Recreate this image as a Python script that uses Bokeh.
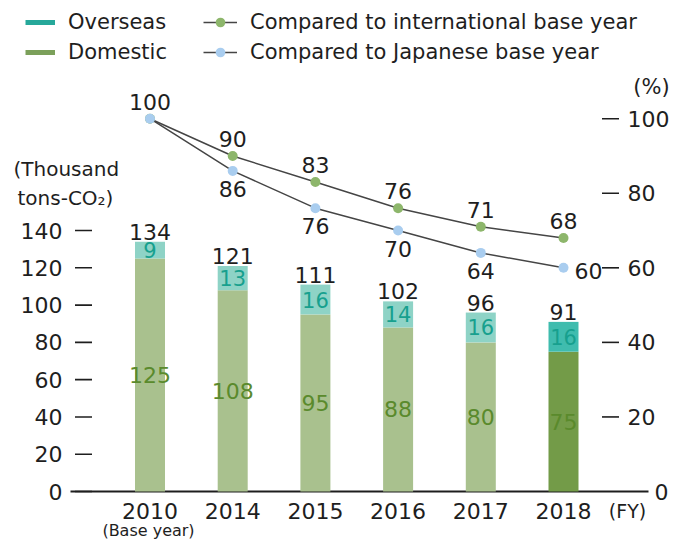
from bokeh.plotting import figure
from bokeh.models import ColumnDataSource, Range1d, Legend, LegendItem, Label
from bokeh.core.properties import value
from bokeh.embed import file_html
from bokeh.resources import INLINE

# ---------------- data ----------------
years = ["2010", "2014", "2015", "2016", "2017", "2018"]
domestic = [125, 108, 95, 88, 80, 75]
overseas = [9, 13, 16, 14, 16, 16]
totals = [134, 121, 111, 102, 96, 91]
intl_pct = [100, 90, 83, 76, 71, 68]
jp_pct = [100, 86, 76, 70, 64, 60]
left_ticks = [0, 20, 40, 60, 80, 100, 120, 140]
right_ticks = [20, 40, 60, 80, 100]

# ---------------- style ----------------
FONT = "DejaVu Sans"
INK = "#1e1e1e"
LINE = "#454545"
DOM_LIGHT, DOM_DARK = "#a9c18e", "#739b48"
OVS_LIGHT, OVS_DARK = "#8ed3c6", "#3fbcae"
DOM_TXT, OVS_TXT = "#5a8a2c", "#17a08e"
LEG_OVS, LEG_DOM = "#26a89a", "#7ba05a"
PT_INTL, PT_JP = "#8db66b", "#a9cdef"

W, H = 676, 542
BAR0_PX, STEP_PX = 149.5, 82.7      # page x of first category, px per category
BASE_PX, PX_PER_UNIT = 491, 1.864   # page y of zero line, px per thousand t

X0, X1 = -BAR0_PX / STEP_PX, (W - BAR0_PX) / STEP_PX
Y0, Y1 = -(H - BASE_PX) / PX_PER_UNIT, BASE_PX / PX_PER_UNIT


def dx(px):  # page x pixel -> data x (for axis furniture placement)
    return (px - BAR0_PX) / STEP_PX


def dy(py):  # page y pixel -> left-axis data y
    return (BASE_PX - py) / PX_PER_UNIT


n = len(years)
xs = list(range(n))
dom_col = [DOM_LIGHT] * (n - 1) + [DOM_DARK]
ovs_col = [OVS_LIGHT] * (n - 1) + [OVS_DARK]

src = ColumnDataSource(dict(
    x=xs, domestic=domestic, total=totals,
    dom_mid=[d / 2 for d in domestic],
    ovs_mid=[d + o / 2 for d, o in zip(domestic, overseas)],
    dom_txt=[str(v) for v in domestic],
    ovs_txt=[str(v) for v in overseas],
    tot_txt=[str(v) for v in totals],
    dom_col=dom_col, ovs_col=ovs_col,
))
lsrc = ColumnDataSource(dict(x=xs, intl=intl_pct, jp=jp_pct,
                             intl_txt=[str(v) for v in intl_pct]))
jp_mid = ColumnDataSource(dict(x=xs[1:-1], jp=jp_pct[1:-1],
                               jp_txt=[str(v) for v in jp_pct[1:-1]]))
jp_last = ColumnDataSource(dict(x=xs[-1:], jp=jp_pct[-1:],
                                jp_txt=[str(v) for v in jp_pct[-1:]]))

p = figure(width=W, height=H, x_range=Range1d(X0, X1), y_range=Range1d(Y0, Y1),
           output_backend="svg", toolbar_location=None,
           x_axis_type=None, y_axis_type=None,
           min_border_left=0, min_border_right=0, min_border_top=0, min_border_bottom=0)
p.extra_y_ranges = {"pct": Range1d(Y0 / 2, Y1 / 2)}
p.xgrid.visible = False
p.ygrid.visible = False
p.outline_line_color = None
p.background_fill_color = "white"
p.border_fill_color = "white"

txt = dict(text_font=value(FONT), text_font_size="22px", text_color=INK)

# ---- left axis (ticks + labels at tick values) ----
lt = ColumnDataSource(dict(x=[dx(83)] * len(left_ticks), xl=[dx(62)] * len(left_ticks),
                           y=left_ticks, t=[str(v) for v in left_ticks]))
p.scatter(x="x", y="y", source=lt, marker="dash", size=17, line_color=INK,
          line_width=1.6)
p.text(x="xl", y="y", text="t", source=lt, text_align="right",
       text_baseline="middle", **txt)

# ---- right axis ----
rt = ColumnDataSource(dict(x=[dx(610)] * len(right_ticks), xl=[dx(627)] * len(right_ticks),
                           y=right_ticks, t=[str(v) for v in right_ticks]))
p.scatter(x="x", y="y", source=rt, y_range_name="pct", marker="dash", size=17,
          line_color=INK, line_width=1.6)
p.text(x="xl", y="y", text="t", source=rt, y_range_name="pct", text_align="left",
       text_baseline="middle", **txt)
p.text(x=[dx(654)], y=[0], text=["0"], y_range_name="pct", text_align="left",
       text_baseline="middle", **txt)

# ---- baseline + category labels ----
p.segment(x0=[dx(70)], x1=[dx(648)], y0=[0], y1=[0], line_color=INK, line_width=2)
p.text(x=xs, y=[0] * n, text=years, text_align="center", text_baseline="middle",
       y_offset=19, **txt)

# ---- bars ----
p.vbar(x="x", width=30 / STEP_PX, bottom=0, top="domestic", fill_color="dom_col",
       line_color=None, source=src)
p.vbar(x="x", width=30 / STEP_PX, bottom="domestic", top="total", fill_color="ovs_col",
       line_color=None, source=src)

p.text(x="x", y="dom_mid", text="dom_txt", source=src, text_font=value(FONT),
       text_font_size="22px", text_color=DOM_TXT, text_align="center",
       text_baseline="middle")
p.text(x="x", y="ovs_mid", text="ovs_txt", source=src, text_font=value(FONT),
       text_font_size="21px", text_color=OVS_TXT, text_align="center",
       text_baseline="middle")
p.text(x="x", y="total", text="tot_txt", source=src, text_align="center",
       text_baseline="bottom", y_offset=-2, **txt)

# ---- lines ----
l_intl = p.line(x="x", y="intl", source=lsrc, y_range_name="pct", line_color=LINE,
                line_width=1.5)
s_intl = p.scatter(x="x", y="intl", source=lsrc, y_range_name="pct", size=10,
                   fill_color=PT_INTL, line_color=None)
l_jp = p.line(x="x", y="jp", source=lsrc, y_range_name="pct", line_color=LINE,
              line_width=1.5)
s_jp = p.scatter(x="x", y="jp", source=lsrc, y_range_name="pct", size=10,
                 fill_color=PT_JP, line_color=None)

p.text(x="x", y="intl", text="intl_txt", source=lsrc, y_range_name="pct",
       text_align="center", text_baseline="bottom", y_offset=-9, **txt)
p.text(x="x", y="jp", text="jp_txt", source=jp_mid, y_range_name="pct",
       text_align="center", text_baseline="top", y_offset=10, **txt)
p.text(x="x", y="jp", text="jp_txt", source=jp_last, y_range_name="pct",
       text_align="left", text_baseline="middle", x_offset=11, y_offset=3, **txt)

# ---- legends (swatch proxies hold a single NaN so nothing is drawn on the plot) ----
nan = float("nan")
leg_ovs = p.line(x=[nan], y=[nan], line_color=LEG_OVS, line_width=5)
leg_dom = p.line(x=[nan], y=[nan], line_color=LEG_DOM, line_width=5)
common = dict(orientation="vertical", padding=0, margin=0, border_line_color=None,
              background_fill_alpha=0, label_text_font=FONT,
              label_text_font_size="21px", label_text_color=INK,
              glyph_height=24, label_height=24, label_standoff=13, spacing=6)
LEG_TOP, LEG_H = 10, 54
legend1 = Legend(items=[LegendItem(label="Overseas", renderers=[leg_ovs]),
                        LegendItem(label="Domestic", renderers=[leg_dom])],
                 location=(25, H - LEG_TOP - LEG_H), glyph_width=30, **common)
legend2 = Legend(items=[LegendItem(label="Compared to international base year",
                                   renderers=[l_intl, s_intl]),
                        LegendItem(label="Compared to Japanese base year",
                                   renderers=[l_jp, s_jp])],
                 location=(203, H - LEG_TOP - LEG_H), glyph_width=34, **common)
p.add_layout(legend1)
p.add_layout(legend2)

# ---- axis titles / notes ----
def lab(text, px, py, size, align="center"):
    p.add_layout(Label(x=dx(px), y=dy(py), text=text, text_font=FONT,
                       text_font_size=size, text_color=INK, text_align=align,
                       text_baseline="middle"))

lab("(Thousand", 13, 168, "20px", align="left")
lab("tons-CO\u2082)", 17, 197, "20px", align="left")
lab("(%)", 651, 86, "21px")
lab("(FY)", 627, 510, "19px")
lab("(Base year)", 148, 530, "16px")

open("out.html", "w").write(file_html(p, INLINE))
